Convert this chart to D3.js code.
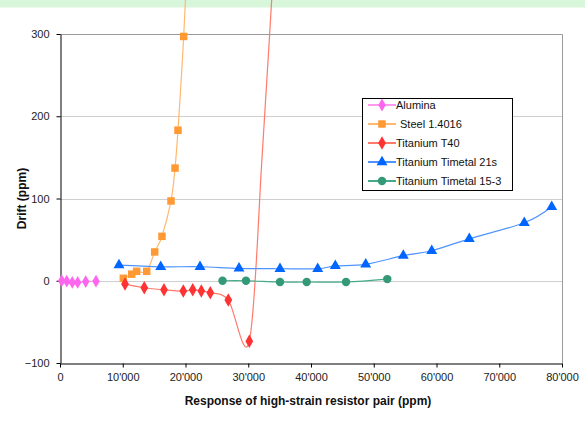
<!DOCTYPE html>
<html><head><meta charset="utf-8">
<script src="https://cdn.jsdelivr.net/npm/d3@7"></script>
<style>body{margin:0;background:#fff}svg{display:block}text{font-family:"Liberation Sans",Arial,sans-serif}</style>
</head><body>
<script>
const xTicks = [0,10000,20000,30000,40000,50000,60000,70000,80000];
const yTicks = [-100,0,100,200,300];
const alumina = [[270,0],[1070,-0.5],[1960,-2],[2820,-2],[4100,-1],[5740,-0.5]];
const steel = [[10090,3],[11430,8],[12220,11.5],[13820,11.5],[15090,35],[16250,54],[17690,97],[18330,137],[18800,183],[19710,297],[21000,500],[22300,700]];
const t40 = [[10360,-4],[13430,-8.5],[16570,-11],[19650,-12.5],[21150,-11],[22520,-12.5],[23950,-14.5],[26820,-23.5],[30170,-73.6],[32200,150],[33700,337],[35200,524]];
const timetal21s = [[9400,19],[16050,17],[22310,17],[28530,15],[35060,14.6],[41070,14.6],[43870,18],[48720,20],[54710,30.5],[59240,36.5],[65230,51],[73990,70.5],[78360,90]];
const timetal153 = [[25900,0],[29640,0],[35060,-1.5],[39310,-1.5],[45580,-1.5],[52160,2]];
const seriesNames = ["Alumina","Steel 1.4016","Titanium T40","Titanium Timetal 21s","Titanium Timetal 15-3"];

const series = [
  {name:seriesNames[0], data:alumina, marker:"diamond", fill:"#ff66ee", line:"#ff99f0", size:48, nPlot:6},
  {name:seriesNames[1], data:steel, marker:"square", fill:"#ff9933", line:"#ffb870", size:56, nPlot:10},
  {name:seriesNames[2], data:t40, marker:"diamond", fill:"#ff3333", line:"#ff7a6a", size:52, nPlot:9},
  {name:seriesNames[3], data:timetal21s, marker:"triangle", fill:"#0066ff", line:"#4d94ff", size:52, nPlot:13},
  {name:seriesNames[4], data:timetal153, marker:"circle", fill:"#339977", line:"#44aa88", size:56, nPlot:6}
];

const W=585,H=427;
const svg=d3.select("body").append("svg").attr("width",W).attr("height",H);
const L=60,R=562,T=34,B=363;
const x=d3.scaleLinear().domain([0,80000]).range([L,R]);
const y=d3.scaleLinear().domain([-100,300]).range([B,T]);

svg.append("rect").attr("x",0).attr("y",0).attr("width",W).attr("height",7.5).attr("fill","#d7f6da");

// gridlines
svg.append("g").selectAll("line").data([0,100,200]).join("line")
  .attr("x1",L).attr("x2",R).attr("y1",d=>Math.round(y(d))+0.5).attr("y2",d=>Math.round(y(d))+0.5)
  .attr("stroke","#cfcfcf").attr("stroke-width",1);
// top & right border
svg.append("path").attr("d",`M${L},${T+0.5}H${R+0.5}V${B}`).attr("fill","none").attr("stroke","#9a9a9a").attr("stroke-width",1);

// axes
const fmt=d=>d===0?"0":d3.format(",")(d).replace(/,/g,"'");
const xAxis=svg.append("g").attr("transform",`translate(0,${B+0.5})`)
  .call(d3.axisBottom(x).tickValues(xTicks).tickFormat(fmt).tickSize(4).tickSizeOuter(0).tickPadding(6));
const yAxis=svg.append("g").attr("transform",`translate(${L+0.5},0)`)
  .call(d3.axisLeft(y).tickValues(yTicks).tickSize(4).tickSizeOuter(0).tickPadding(7));
[xAxis,yAxis].forEach(a=>{
  a.select(".domain").attr("stroke","#000");
  a.selectAll(".tick line").attr("stroke","#000");
  a.selectAll("text").attr("font-size",11).attr("fill","#222").attr("font-family","'Liberation Sans',Arial,sans-serif");
});

// titles
svg.append("text").attr("x",(L+R)/2-3).attr("y",405).attr("text-anchor","middle")
  .attr("font-size",12).attr("font-weight","bold").attr("fill","#111").text("Response of high-strain resistor pair (ppm)");
svg.append("text").attr("transform",`translate(26,${y(100)}) rotate(-90)`).attr("text-anchor","middle")
  .attr("font-size",12).attr("font-weight","bold").attr("fill","#111").text("Drift (ppm)");

const symType={diamond:d3.symbolDiamond,square:d3.symbolSquare,triangle:d3.symbolTriangle,circle:d3.symbolCircle};
const line=d3.line().x(d=>x(d[0])).y(d=>y(d[1])).curve(d3.curveCatmullRom.alpha(0));

series.forEach(s=>{
  svg.append("path").datum(s.data).attr("d",line).attr("fill","none").attr("stroke",s.line).attr("stroke-width",1.2);
});
series.forEach(s=>{
  const sym=d3.symbol().type(symType[s.marker]).size(s.size);
  svg.append("g").selectAll("path").data(s.data.slice(0,s.nPlot)).join("path")
    .attr("transform",d=>`translate(${x(d[0])},${y(d[1])})`).attr("d",sym).attr("fill",s.fill);
});

// legend
const lg=svg.append("g");
lg.append("rect").attr("x",362.5).attr("y",98.5).attr("width",150).attr("height",92).attr("fill","#fff").attr("stroke","#000").attr("stroke-width",1);
series.forEach((s,i)=>{
  const cy=105+i*19;
  lg.append("line").attr("x1",368).attr("x2",396).attr("y1",cy).attr("y2",cy).attr("stroke",s.line).attr("stroke-width",2);
  lg.append("path").attr("transform",`translate(382,${cy})`).attr("d",d3.symbol().type(symType[s.marker]).size(s.size)()).attr("fill",s.fill);
  lg.append("text").attr("x",i===1?400:396).attr("y",cy+1).attr("dominant-baseline","middle").attr("font-size",11).attr("fill","#111").text(s.name);
});
</script>
</body></html>
